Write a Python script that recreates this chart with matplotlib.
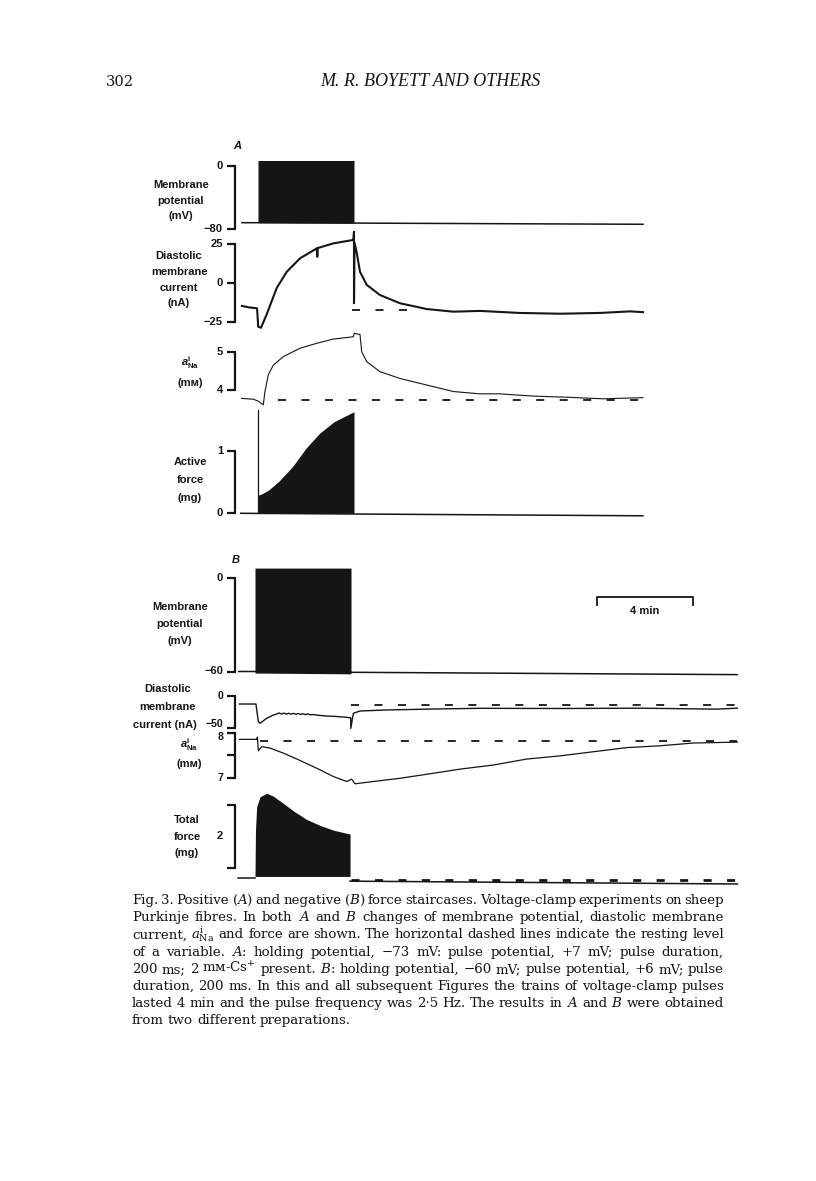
import matplotlib
matplotlib.use('Agg')
import matplotlib.pyplot as plt
import matplotlib.transforms as mtrans

# ---- data (time in min, t=0 at start of pulse train) ----
# A: positive staircase
memA_t = [-0.67, 0.0, 4.0, 16.04]
memA_v = [-72.0, -72.0, -72.5, -74.0]
pulseA_mV = 7.0
trainA = [0.0, 4.0]

curA_t = [-0.67, -0.35, -0.04, 0.01, 0.125, 0.36, 0.78, 1.2, 1.75, 2.45,
          2.47, 2.49, 3.14, 3.97, 4.0, 4.0, 4.02, 4.11, 4.25, 4.53,
          5.08, 5.92, 7.03, 8.14, 9.25, 10.9, 12.6, 14.25, 15.5, 16.04]
curA_v = [-14.5, -15.5, -16.0, -27.8, -28.5, -20.0, -3.0, 7.4, 16.0, 22.4,
          17.0, 22.6, 25.6, 27.8, 33.0, -12.8, 26.0, 20.0, 7.4, -1.0,
          -7.5, -12.8, -16.5, -18.2, -17.7, -19.0, -19.5, -19.0, -18.0, -18.5]
curA_rest = -17.0
curA_rest_t = [3.9, 6.2]

naA_t = [-0.68, -0.2, 0.01, 0.22, 0.29, 0.43, 0.64, 1.05, 1.75, 2.45,
         3.14, 3.97, 4.01, 4.25, 4.32, 4.53, 5.08, 5.92, 7.03, 8.14,
         9.25, 10.06, 11.5, 12.94, 14.375, 16.04]
naA_v = [3.78, 3.76, 3.71, 3.61, 3.96, 4.40, 4.65, 4.87, 5.09, 5.22,
         5.33, 5.39, 5.48, 5.45, 5.0, 4.74, 4.48, 4.30, 4.13, 3.96,
         3.90, 3.90, 3.84, 3.81, 3.77, 3.80]
naA_rest = 3.74
naA_rest_t = [0.83, 16.04]

forceA_t = [0.0, 0.146, 0.43, 0.86, 1.44, 2.01, 2.58, 3.17, 3.58, 4.0]
forceA_v = [0.29, 0.31, 0.37, 0.51, 0.75, 1.05, 1.29, 1.47, 1.55, 1.63]
forceA_first = 1.66
forceA_base_t = [-0.72, 16.04]
forceA_base_v = [0.0, -0.04]

# B: negative staircase
memB_t = [-0.68, 0.0, 4.0, 20.1]
memB_v = [-60.0, -60.0, -60.5, -62.0]
pulseB_mV = 6.0
trainB = [0.0, 4.0]

curB_t = [-0.65, 0.04, 0.14, 0.21, 0.49, 0.75, 0.9, 1.0, 1.1, 1.2,
          1.3, 1.4, 1.5, 1.6, 1.7, 1.8, 1.9, 2.0, 2.1, 2.2,
          2.3, 2.45, 2.6, 2.99, 3.4, 3.82, 3.99, 3.99, 4.1, 4.375,
          5.49, 7.43, 9.375, 12.7, 16.04, 19.2, 20.1]
curB_v = [-13.0, -13.0, -40.6, -43.0, -35.3, -30.5, -28.6, -27.0, -28.6, -27.2,
          -28.8, -27.4, -28.8, -27.6, -29.0, -27.8, -29.2, -28.2, -29.6, -28.4,
          -29.8, -29.5, -30.5, -31.8, -32.5, -33.8, -34.5, -51.0, -27.5, -23.9,
          -22.3, -20.8, -19.7, -20.0, -19.5, -21.0, -19.5]
curB_rest = -14.5
curB_rest_t = [4.0, 20.1]

naB_t = [-0.65, 0.07, 0.1, 0.14, 0.28, 0.625, 1.18, 1.875, 2.57, 3.26,
         3.82, 4.03, 4.17, 4.93, 6.04, 7.43, 8.54, 9.93, 11.32, 12.71,
         14.1, 15.49, 16.875, 18.26, 20.1]
naB_v = [7.85, 7.85, 7.9, 7.6, 7.69, 7.66, 7.55, 7.39, 7.22, 7.04,
         6.93, 6.98, 6.88, 6.93, 7.0, 7.11, 7.2, 7.29, 7.42, 7.49,
         7.58, 7.67, 7.71, 7.77, 7.79]
naB_rest = 7.82
naB_rest_t = [0.2, 20.1]

forceB_t = [0.0, 0.02, 0.07, 0.21, 0.49, 0.76, 1.18, 1.6, 2.15, 2.71, 3.26, 3.93, 3.96]
forceB_v = [0.05, 1.52, 2.26, 2.58, 2.69, 2.6, 2.37, 2.13, 1.86, 1.67, 1.52, 1.40, 1.40]
forceB_floor = 0.05
forceB_pre_t = [-0.71, 0.0]
forceB_pre_v = [0.0, 0.0]
forceB_post_t = [3.96, 20.1]
forceB_post_v = [-0.1, -0.19]
forceB_rest = -0.06
forceB_rest_t = [4.0, 20.1]

scale_bar_min = 4.0

caption = [
    "Fig. 3. Positive ($A$) and negative ($B$) force staircases. Voltage-clamp experiments on sheep",
    "Purkinje fibres. In both $A$ and $B$ changes of membrane potential, diastolic membrane",
    "current, $a^{\\mathrm{i}}_{\\mathrm{Na}}$ and force are shown. The horizontal dashed lines indicate the resting level",
    "of a variable. $A$: holding potential, \u221273 mV: pulse potential, +7 mV; pulse duration,",
    "200 ms; 2 m\u1d0d-Cs$^{+}$ present. $B$: holding potential, \u221260 mV; pulse potential, +6 mV; pulse",
    "duration, 200 ms. In this and all subsequent Figures the trains of voltage-clamp pulses",
    "lasted 4 min and the pulse frequency was 2\u00b75 Hz. The results in $A$ and $B$ were obtained",
    "from two different preparations.",
]

# ---- figure ----
W, H = 816, 1181
INK = '#151515'
plt.rcParams['lines.scale_dashes'] = False
plt.rcParams['mathtext.fontset'] = 'custom'
plt.rcParams['mathtext.rm'] = 'Liberation Sans:bold'
plt.rcParams['mathtext.it'] = 'Liberation Sans:italic:bold'
plt.rcParams['mathtext.bf'] = 'Liberation Sans:bold'

fig = plt.figure(figsize=(W / 100, H / 100), dpi=100)
# pixel coords, origin top-left
PX = mtrans.Affine2D().scale(1 / W, -1 / H).translate(0, 1) + fig.transFigure

SANS = dict(family=['Liberation Sans', 'DejaVu Sans'], fontweight='bold', fontsize=8, color=INK)
DASH = (0, (5.8, 11.1))


def panel(t0_px, y1, v1, y2, v2, top, bot, x0=100, x1=760, ppm=24.0):
    ax = fig.add_axes([x0 / W, 1 - bot / H, (x1 - x0) / W, (bot - top) / H])
    k = (v2 - v1) / (y2 - y1)
    ax.set_xlim((x0 - t0_px) / ppm, (x1 - t0_px) / ppm)
    ax.set_ylim(v1 + (bot - y1) * k, v1 + (top - y1) * k)
    ax.axis('off')
    return ax


def bracket(ax, lo, hi, ticks, labels, size=8):
    tr = mtrans.blended_transform_factory(PX, ax.transData)
    ax.plot([235, 235], [lo, hi], transform=tr, color=INK, lw=1.6, clip_on=False,
            solid_capstyle='butt')
    for v in ticks:
        ax.plot([227, 236], [v, v], transform=tr, color=INK, lw=1.6, clip_on=False,
                solid_capstyle='butt')
    for v, s, dy in labels:
        ax.text(223, v, s, transform=tr + mtrans.Affine2D().translate(0, dy),
                ha='right', va='center', **{**SANS, 'fontsize': size})


def label(lines, x, ys, size=8):
    for s, y in zip(lines, ys):
        fig.text(x, y, s, transform=PX, ha='center', va='center',
                 **{**SANS, 'fontsize': size})


# ---------- panel A ----------
axA_mem = panel(258, 166, 0, 229, -80, 150, 232)
axA_mem.plot(memA_t, memA_v, color=INK, lw=1.1, clip_on=False)
axA_mem.fill_between(trainA, [memA_v[1], memA_v[2]], pulseA_mV, color=INK, lw=0)
bracket(axA_mem, -80, 0, [0, -80], [(0, '0', 0), (-80, '\u221280', 0)])
label(['Membrane', 'potential', '(mV)'], 181, [185, 201, 216])
fig.text(237, 146, 'A', transform=PX, ha='center', va='center',
         **{**SANS, 'fontstyle': 'italic'})

axA_cur = panel(258, 244.3, 25, 322.3, -25, 228, 335)
axA_cur.plot(curA_t, curA_v, color=INK, lw=1.5, clip_on=False)
axA_cur.plot(curA_rest_t, [curA_rest] * 2, color=INK, lw=1.3, ls=DASH, clip_on=False)
bracket(axA_cur, -25, 25, [25, 0, -25], [(25, '25', 0), (0, '0', 0), (-25, '\u221225', 0)])
label(['Diastolic', 'membrane', 'current', '(nA)'], 179, [256, 272, 288, 303])

axA_na = panel(258, 351.7, 5, 390, 4, 328, 410)
axA_na.plot(naA_t, naA_v, color=INK, lw=0.8, clip_on=False)
axA_na.plot(naA_rest_t, [naA_rest] * 2, color=INK, lw=1.3, ls=DASH, clip_on=False)
bracket(axA_na, 4, 5, [5, 4], [(5, '5', 0), (4, '4', 0)])
label([r'$a^{\mathrm{i}}_{\mathrm{Na}}$', '(m\u1d0d)'], 190, [363, 383])

axA_f = panel(258, 451, 1, 513.3, 0, 405, 520)
axA_f.plot(forceA_base_t, forceA_base_v, color=INK, lw=1.1, clip_on=False)
axA_f.fill_between(forceA_t, 0, forceA_v, color=INK, lw=0)
axA_f.plot([forceA_t[0]] * 2, [0, forceA_first], color=INK, lw=0.9, clip_on=False)
bracket(axA_f, 0, 1, [1, 0], [(1, '1', 0), (0, '0', 0)])
label(['Active', 'force', '(mg)'], 190, [462, 480, 498])

# ---------- panel B ----------
axB_mem = panel(255, 577.5, 0, 671.5, -60, 560, 680)
axB_mem.plot(memB_t, memB_v, color=INK, lw=1.1, clip_on=False)
axB_mem.fill_between(trainB, [memB_v[1] - 1, memB_v[2] - 1], pulseB_mV, color=INK, lw=0)
bracket(axB_mem, -60, 0, [0, -60], [(0, '0', 0), (-60, '\u221260', 0)])
label(['Membrane', 'potential', '(mV)'], 180, [607, 624, 641])
fig.text(236, 560, 'B', transform=PX, ha='center', va='center',
         **{**SANS, 'fontstyle': 'italic'})
# time scale bar
trs = mtrans.blended_transform_factory(axB_mem.transData, PX)
sb0 = 14.25
axB_mem.plot([sb0, sb0, sb0 + scale_bar_min, sb0 + scale_bar_min], [605, 597, 597, 605],
             transform=trs, color=INK, lw=1.3, clip_on=False)
axB_mem.text(sb0 + scale_bar_min / 2, 611, '%d min' % scale_bar_min, transform=trs,
             ha='center', va='center', **SANS)

axB_cur = panel(255, 695.7, 0, 727.7, -50, 685, 735)
axB_cur.plot(curB_t, curB_v, color=INK, lw=1.0, clip_on=False)
axB_cur.plot(curB_rest_t, [curB_rest] * 2, color=INK, lw=1.3, ls=DASH, clip_on=False)
bracket(axB_cur, -50, 0, [0, -50], [(0, '0', 0), (-50, '\u221250', 3.5)], size=7.6)
label(['Diastolic', 'membrane'], 168, [689, 707])
fig.text(197, 725, 'current (nA)', transform=PX, ha='right', va='center', **SANS)

axB_na = panel(255, 732.5, 8, 778.3, 7, 728, 790)
axB_na.plot(naB_t, naB_v, color=INK, lw=0.9, clip_on=False)
axB_na.plot(naB_rest_t, [naB_rest] * 2, color=INK, lw=1.3, ls=DASH, clip_on=False)
bracket(axB_na, 7, 8, [8, 7.5, 7], [(8, '8', -4.5), (7, '7', 0)], size=7.6)
label([r'$a^{\mathrm{i}}_{\mathrm{Na}}$', '(m\u1d0d)'], 189, [745, 764])

axB_f = panel(255, 878, 0, 815, 2, 788, 890)
axB_f.plot(forceB_pre_t, forceB_pre_v, color=INK, lw=1.1, clip_on=False)
axB_f.plot(forceB_post_t, forceB_post_v, color=INK, lw=1.1, clip_on=False)
axB_f.fill_between(forceB_t, forceB_floor, forceB_v, color=INK, lw=0)
axB_f.plot(forceB_rest_t, [forceB_rest] * 2, color=INK, lw=2.0, ls=DASH, clip_on=False)
bracket(axB_f, 0.32, 2.32, [0.32, 2.32], [])
axB_f.text(223, 1.32, '2', transform=mtrans.blended_transform_factory(PX, axB_f.transData),
           ha='right', va='center', **SANS)
label(['Total', 'force', '(mg)'], 187, [820, 837, 853])

# ---------- page header and caption ----------
SERIF = dict(family=['DejaVu Serif', 'DejaVu Sans'], color=INK)
fig.text(106, 82, '302', transform=PX, ha='left', va='center', fontsize=10.5, **SERIF)
fig.text(430, 82, 'M. R. BOYETT AND OTHERS', transform=PX, ha='center', va='center',
         fontsize=13, fontstyle='italic', family=['Liberation Serif'], color=INK)

renderer = fig.canvas.get_renderer()
CAP_X0, CAP_X1, CAP_FS = 132, 724, 9.6


def put_line(s, y, last):
    words = s.split()
    ts = [fig.text(0, 0, w, transform=PX, fontsize=CAP_FS, ha='left', va='baseline',
                   math_fontfamily='dejavuserif', **SERIF) for w in words]
    ws = [t.get_window_extent(renderer).width for t in ts]
    if last:
        gap = CAP_FS * 100 / 72 * 0.3
    else:
        gap = (CAP_X1 - CAP_X0 - sum(ws)) / (len(ws) - 1)
    x = CAP_X0
    for t, w in zip(ts, ws):
        t.set_position((x, y))
        x += w + gap


for i, s in enumerate(caption):
    put_line(s, 904 + i * 17.2, i == len(caption) - 1)

fig.savefig('out.png', dpi=100)
